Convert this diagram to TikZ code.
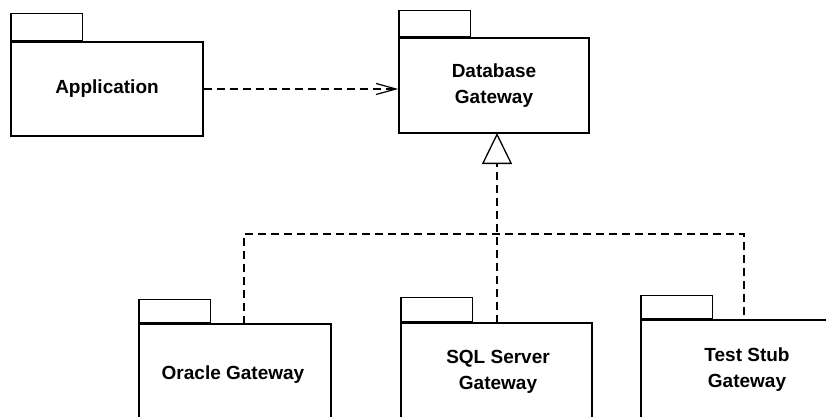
\documentclass[tikz,border=0pt]{standalone}
\usepackage{fontspec}
\setmainfont{Liberation Sans}
\usetikzlibrary{arrows.meta}
\begin{document}
\begin{tikzpicture}[x=1pt,y=-1pt,
  pkg/.style={draw, line width=1.4pt, inner sep=0pt, align=center,
    font=\fontsize{19}{26}\selectfont\bfseries},
  tab/.style={draw, line width=1.4pt, anchor=south west, minimum width=71.5pt, inner sep=0pt},
  dep/.style={line width=1.2pt, dash pattern=on 8pt off 5pt},
  lbl/.style={font=\fontsize{19}{26}\selectfont\bfseries, align=center, inner sep=0pt}
]
\useasboundingbox (0,0) rectangle (826,417);

% Application
\node[pkg, minimum width=192pt, minimum height=94pt] (app) at (107,89) {Application};
\node[tab, minimum height=27pt] (apptab) at (app.north west) {};

% Database Gateway
\node[pkg, minimum width=190pt, minimum height=95pt] (db) at (494,85.5) {Database\\Gateway};
\node[tab, minimum height=26pt] (dbtab) at (db.north west) {};

% Oracle Gateway
\node[pkg, minimum width=192pt, minimum height=102pt] (ora) at (235,375) {};
\node[lbl] (oralbl) at (233,375) {Oracle Gateway};
\node[tab, minimum height=23pt] (oratab) at (ora.north west) {};

% SQL Server Gateway
\node[pkg, minimum width=191pt, minimum height=102pt] (sql) at (496.5,374) {};
\node[lbl] (sqllbl) at (498,371.5) {SQL Server\\Gateway};
\node[tab, minimum height=24pt] (sqltab) at (sql.north west) {};

% Test Stub Gateway
\node[pkg, minimum width=212pt, minimum height=102pt] (tst) at (747,371) {};
\node[lbl] (tstlbl) at (747,370) {Test Stub\\Gateway};
\node[tab, minimum height=23pt] (tsttab) at (tst.north west) {};

% dependency Application -> Database Gateway
\draw[dep, -{Straight Barb[length=20pt, width=11pt, line width=1.2pt]}] (app.east) -- (app.east -| db.west);

% realization tree
\coordinate (apex) at (497,133);
\coordinate (bar) at (497,234);
\coordinate (oraTop) at (244,324);
\coordinate (tstTop) at (744,320);
\coordinate (sqlTop) at (497,323);
\draw[dep, -{Triangle[open, length=31pt, width=30pt, line width=1.3pt]}] (sqlTop) -- (apex);
\draw[dep] (oraTop) |- (bar) -| (tstTop);
\end{tikzpicture}
\end{document}
